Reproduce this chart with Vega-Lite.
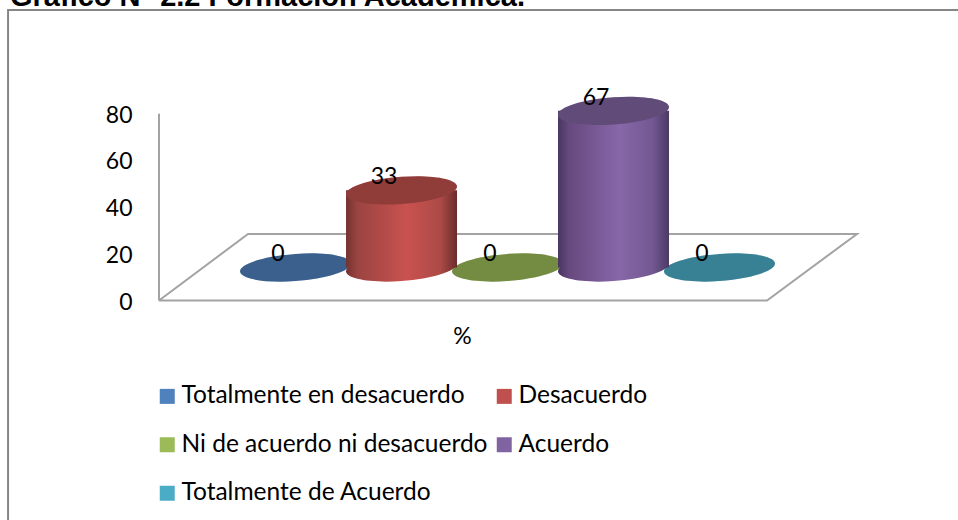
{
"$schema":"https://vega.github.io/schema/vega-lite/v6.json",
"width":958,"height":520,"padding":0,"autosize":{"type":"none"},"background":"white",
"title":{"text":"Gráfico N° 2.2 Formación Académica.","anchor":"start","frame":"group","offset":-35,"dx":10,"baseline":"alphabetic","font":"Liberation Sans","fontSize":29,"fontWeight":"bold","color":"#000000"},
"config":{"view":{"stroke":null},"axis":{"grid":false}},
"datasets":{
"cats":[
{"cat":"Totalmente en desacuerdo","pos":1,"value":0},
{"cat":"Desacuerdo","pos":2,"value":33},
{"cat":"Ni de acuerdo ni desacuerdo","pos":3,"value":0},
{"cat":"Acuerdo","pos":4,"value":67},
{"cat":"Totalmente de Acuerdo","pos":5,"value":0}],
"lines":[
{"part":"frame","seq":1,"across":-1.712,"level":-94},
{"part":"frame","seq":2,"across":-1.712,"level":124.4},
{"part":"frame","seq":3,"across":7.25,"level":124.4},
{"part":"floor","seq":1,"across":-0.288,"level":0},
{"part":"floor","seq":2,"across":0.552,"level":28.5},
{"part":"floor","seq":3,"across":6.297,"level":28.5},
{"part":"floor","seq":4,"across":5.448,"level":0},
{"part":"floor","seq":5,"across":-0.288,"level":0},
{"part":"wall","seq":1,"across":-0.288,"level":80},
{"part":"wall","seq":2,"across":-0.288,"level":0}]
},
"resolve":{"scale":{"y":"independent"}},
"layer":[
{"data":{"name":"lines"},"transform":[{"filter":"datum.part==='frame'"}],
 "mark":{"type":"line","color":"#868686","strokeWidth":2},
 "encoding":{
  "x":{"field":"across","type":"quantitative","scale":{"domain":[-1.788,7.25],"nice":false,"zero":false,"padding":0},
   "axis":{"title":"%","labels":false,"ticks":false,"domain":false,"grid":false,"titleX":462,"titleY":-195,"titleFont":"Lato","titleFontSize":23,"titleFontWeight":"normal","titleColor":"#000000"}},
  "y":{"field":"level","type":"quantitative","scale":{"domain":[-94,128.7],"nice":false,"zero":false},"axis":null},
  "order":{"field":"seq"}}},
{"data":{"name":"lines"},"transform":[{"filter":"datum.part!=='frame'"}],
 "mark":{"type":"line","color":"#a3a3a3","strokeWidth":2},
 "encoding":{
  "x":{"field":"across","type":"quantitative"},
  "y":{"field":"level","type":"quantitative","scale":{"domain":[-94,128.7],"nice":false,"zero":false},
   "axis":{"values":[0,20,40,60,80],"title":null,"domain":false,"ticks":false,"grid":false,"offset":-132,"labelPadding":0,"labelOffset":1.5,"labelFont":"Lato","labelFontSize":23,"labelColor":"#000000"}},
  "detail":{"field":"part"},
  "order":{"field":"seq"}}},
{"data":{"name":"cats"},"transform":[{"filter":"datum.value===0"}],
 "mark":{"type":"point","filled":true,"opacity":1,"size":12321,"strokeWidth":0,"shape":"M 1 -0.07 C 1 0.0653 0.5523 0.2063 0 0.245 C -0.5523 0.2837 -1 0.2053 -1 0.07 C -1 -0.0653 -0.5523 -0.2063 0 -0.245 C 0.5523 -0.2837 1 -0.2053 1 -0.07 Z"},
 "encoding":{
  "x":{"field":"pos","type":"quantitative"},
  "y":{"field":"value","type":"quantitative","scale":{"domain":[-108,114.4],"nice":false,"zero":false},"axis":null},
  "color":{"field":"cat","type":"nominal","scale":{"domain":["Totalmente en desacuerdo","Desacuerdo","Ni de acuerdo ni desacuerdo","Acuerdo","Totalmente de Acuerdo"],"range":["#4f81bd","#c0504d","#9bbb59","#8064a2","#4bacc6"]},
   "legend":{"title":null,"orient":"none","legendX":155,"legendY":384,"direction":"horizontal","columns":2,"symbolType":"square","symbolSize":225,"symbolOpacity":1,"symbolStrokeWidth":0,"labelFont":"Lato","labelFontSize":24.5,"labelColor":"#000000","labelOffset":2,"rowPadding":23.5,"columnPadding":4,"labelLimit":400,"gridAlign":"each"}}}},
{"data":{"name":"cats"},"transform":[{"filter":"datum.value===0"}],
 "mark":{"type":"point","filled":true,"color":"#000000","opacity":0.25,"size":12321,"strokeWidth":0,"shape":"M 1 -0.07 C 1 0.0653 0.5523 0.2063 0 0.245 C -0.5523 0.2837 -1 0.2053 -1 0.07 C -1 -0.0653 -0.5523 -0.2063 0 -0.245 C 0.5523 -0.2837 1 -0.2053 1 -0.07 Z"},
 "encoding":{
  "x":{"field":"pos","type":"quantitative"},
  "y":{"field":"value","type":"quantitative","scale":{"domain":[-108,114.4],"nice":false,"zero":false},"axis":null}}},
{"data":{"name":"cats"},"transform":[{"filter":"datum.cat==='Desacuerdo'"}],
 "mark":{"type":"point","filled":true,"opacity":1,"size":12321,"strokeWidth":0,"fill":{"gradient":"linear","x1":0,"y1":0,"x2":1,"y2":0,"stops":[{"offset":0,"color":"#73322f"},{"offset":0.1,"color":"#9a4441"},{"offset":0.55,"color":"#c9524f"},{"offset":0.85,"color":"#ac4a47"},{"offset":1,"color":"#6a2d2b"}]},"shape":"M 1 -0.07 C 1 0.0653 0.5523 0.2063 0 0.245 C -0.5523 0.2837 -1 0.2053 -1 0.07 C -1 -0.0653 -0.5523 -0.2063 0 -0.245 C 0.5523 -0.2837 1 -0.2053 1 -0.07 Z"},
 "encoding":{
  "x":{"field":"pos","type":"quantitative"},
  "y":{"datum":0,"type":"quantitative","scale":{"domain":[-108,114.4],"nice":false,"zero":false},"axis":null}}},
{"data":{"name":"cats"},"transform":[{"filter":"datum.cat==='Desacuerdo'"}],
 "mark":{"type":"bar","orient":"vertical","size":111,"fill":{"gradient":"linear","x1":0,"y1":0,"x2":1,"y2":0,"stops":[{"offset":0,"color":"#73322f"},{"offset":0.1,"color":"#9a4441"},{"offset":0.55,"color":"#c9524f"},{"offset":0.85,"color":"#ac4a47"},{"offset":1,"color":"#6a2d2b"}]}},
 "encoding":{
  "x":{"field":"pos","type":"quantitative","scale":{"padding":0}},
  "y":{"field":"value","type":"quantitative","scale":{"domain":[-108,114.4],"nice":false,"zero":false},"axis":null}}},
{"data":{"name":"cats"},"transform":[{"filter":"datum.cat==='Acuerdo'"}],
 "mark":{"type":"point","filled":true,"opacity":1,"size":12321,"strokeWidth":0,"fill":{"gradient":"linear","x1":0,"y1":0,"x2":1,"y2":0,"stops":[{"offset":0,"color":"#473660"},{"offset":0.1,"color":"#67497f"},{"offset":0.55,"color":"#8767a8"},{"offset":0.85,"color":"#735892"},{"offset":1,"color":"#4b3a64"}]},"shape":"M 1 -0.07 C 1 0.0653 0.5523 0.2063 0 0.245 C -0.5523 0.2837 -1 0.2053 -1 0.07 C -1 -0.0653 -0.5523 -0.2063 0 -0.245 C 0.5523 -0.2837 1 -0.2053 1 -0.07 Z"},
 "encoding":{
  "x":{"field":"pos","type":"quantitative"},
  "y":{"datum":0,"type":"quantitative","scale":{"domain":[-108,114.4],"nice":false,"zero":false},"axis":null}}},
{"data":{"name":"cats"},"transform":[{"filter":"datum.cat==='Acuerdo'"}],
 "mark":{"type":"bar","orient":"vertical","size":111,"fill":{"gradient":"linear","x1":0,"y1":0,"x2":1,"y2":0,"stops":[{"offset":0,"color":"#473660"},{"offset":0.1,"color":"#67497f"},{"offset":0.55,"color":"#8767a8"},{"offset":0.85,"color":"#735892"},{"offset":1,"color":"#4b3a64"}]}},
 "encoding":{
  "x":{"field":"pos","type":"quantitative","scale":{"padding":0}},
  "y":{"field":"value","type":"quantitative","scale":{"domain":[-108,114.4],"nice":false,"zero":false},"axis":null}}},
{"data":{"name":"cats"},"transform":[{"filter":"datum.value>0"}],
 "mark":{"type":"point","filled":true,"opacity":1,"size":12321,"strokeWidth":0,"shape":"M 1 -0.07 C 1 0.0653 0.5523 0.2063 0 0.245 C -0.5523 0.2837 -1 0.2053 -1 0.07 C -1 -0.0653 -0.5523 -0.2063 0 -0.245 C 0.5523 -0.2837 1 -0.2053 1 -0.07 Z"},
 "encoding":{
  "x":{"field":"pos","type":"quantitative"},
  "y":{"field":"value","type":"quantitative","scale":{"domain":[-108,114.4],"nice":false,"zero":false},"axis":null},
  "color":{"field":"cat","type":"nominal"}}},
{"data":{"name":"cats"},"transform":[{"filter":"datum.value>0"}],
 "mark":{"type":"point","filled":true,"color":"#000000","opacity":0.25,"size":12321,"strokeWidth":0,"shape":"M 1 -0.07 C 1 0.0653 0.5523 0.2063 0 0.245 C -0.5523 0.2837 -1 0.2053 -1 0.07 C -1 -0.0653 -0.5523 -0.2063 0 -0.245 C 0.5523 -0.2837 1 -0.2053 1 -0.07 Z"},
 "encoding":{
  "x":{"field":"pos","type":"quantitative"},
  "y":{"field":"value","type":"quantitative","scale":{"domain":[-108,114.4],"nice":false,"zero":false},"axis":null}}},
{"data":{"name":"cats"},
 "mark":{"type":"text","font":"Lato","fontSize":23,"color":"#000000","dx":-17.5,"dy":-13,"baseline":"middle","align":"center"},
 "encoding":{
  "x":{"field":"pos","type":"quantitative"},
  "y":{"field":"value","type":"quantitative","scale":{"domain":[-108,114.4],"nice":false,"zero":false},"axis":null},
  "text":{"field":"value","type":"quantitative"}}}
]}
